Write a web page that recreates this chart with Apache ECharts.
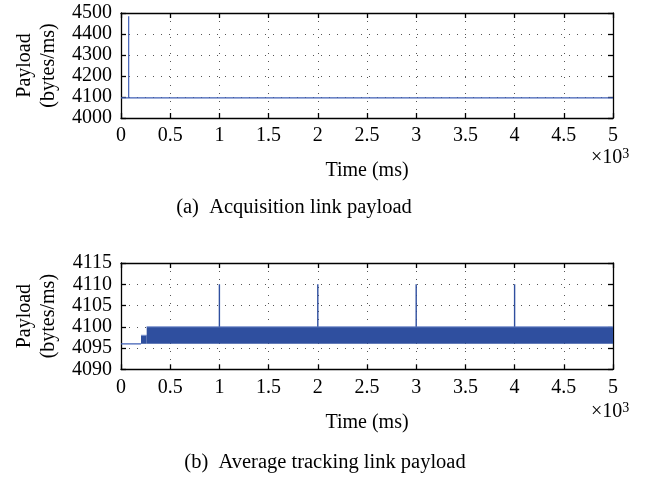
<!DOCTYPE html>
<html>
<head>
<meta charset="utf-8">
<script src="https://cdn.jsdelivr.net/npm/echarts@6/dist/echarts.min.js"></script>
<style>
html,body{margin:0;padding:0;background:#fff;}
#main{width:656px;height:480px;}
</style>
</head>
<body>
<div id="main"></div>
<script>
// ---- Data ----
// (a) Acquisition link payload
var acqTime    = [0,    78,   78,   78,   5000];
var acqPayload = [4096, 4096, 4485, 4096, 4096];

// (b) Average tracking link payload
var trkTime    = [0,    203];
var trkPayload = [4096, 4096];
// dense oscillation regions (drawn as filled bands between low and high)
var bandStart = [203,  261];
var bandEnd   = [261,  5000];
var bandLow   = [4096, 4096];
var bandHigh  = [4098, 4100];
// spikes
var spikeTime  = [1000, 2000, 3000, 4000];
var spikeBase  = [4100, 4100, 4100, 4100];
var spikePeak  = [4110, 4110, 4110, 4110];

// axis ticks
var xTicksMs = [0, 500, 1000, 1500, 2000, 2500, 3000, 3500, 4000, 4500, 5000];
var yTicksA = [4000, 4100, 4200, 4300, 4400, 4500];
var yTicksB = [4090, 4095, 4100, 4105, 4110, 4115];

var FONT = 'Liberation Serif';
var lineColor = '#3f5fb5';
var bandColor = '#2f4f9f';

function pairs(xs, ys){ return xs.map(function(x,i){return [x, ys[i]];}); }

var grids = [
  {left:121, right:43, top:13, height:105},
  {left:121, right:43, top:263, height:106.3}
];

var gridLine = {show:true, lineStyle:{color:'#555', type:[1,7], width:1}};

function xAx(gi, pos, labels){
  return {
    type:'value', gridIndex:gi, position:pos,
    min:xTicksMs[0], max:xTicksMs[xTicksMs.length-1], interval:xTicksMs[1]-xTicksMs[0],
    axisLine:{show:true, onZero:false, lineStyle:{color:'#000', width:1.3}},
    axisTick:{show:true, inside:true, length:5, lineStyle:{color:'#000', width:1.3}},
    axisLabel:{show:labels, margin:8, color:'#000', fontFamily:FONT, fontSize:20,
      formatter:function(v){return String(v/1000);}},
    splitLine: labels ? gridLine : {show:false},
    name: labels ? 'Time (ms)' : '',
    nameLocation:'middle', nameGap:43,
    nameTextStyle:{color:'#000', fontFamily:FONT, fontSize:20}
  };
}
function yAx(gi, pos, ticks, labels){
  return {
    type:'value', gridIndex:gi, position:pos,
    min:ticks[0], max:ticks[ticks.length-1], interval:ticks[1]-ticks[0],
    axisLine:{show:true, onZero:false, lineStyle:{color:'#000', width:1.3}},
    axisTick:{show:true, inside:true, length:5, lineStyle:{color:'#000', width:1.3}},
    axisLabel:{show:labels, margin:9, color:'#000', fontFamily:FONT, fontSize:20,
      formatter:function(v){return String(v);}},
    splitLine: labels ? gridLine : {show:false},
    name: labels ? 'Payload\n(bytes/ms)' : '',
    nameLocation:'middle', nameGap:58, nameRotate:90,
    nameTextStyle:{color:'#000', fontFamily:FONT, fontSize:20, lineHeight:24}
  };
}

var bandData = bandStart.map(function(s,i){ return [s, bandEnd[i], bandLow[i], bandHigh[i]]; });

var series = [
  {type:'line', xAxisIndex:0, yAxisIndex:0, data:pairs(acqTime, acqPayload),
   showSymbol:false, lineStyle:{color:lineColor, width:1.2}},
  {type:'line', xAxisIndex:2, yAxisIndex:2, data:pairs(trkTime, trkPayload),
   showSymbol:false, lineStyle:{color:lineColor, width:1.2}},
  {type:'custom', xAxisIndex:2, yAxisIndex:2, data:bandData,
   encode:{x:[0,1], y:[2,3]},
   renderItem:function(params, api){
     var p0 = api.coord([api.value(0), api.value(3)]);
     var p1 = api.coord([api.value(1), api.value(2)]);
     return {type:'group', children:[
       {type:'rect', shape:{x:p0[0], y:p0[1], width:p1[0]-p0[0], height:p1[1]-p0[1]},
        style:{fill:bandColor}},
       {type:'line', shape:{x1:p0[0], y1:p0[1], x2:p1[0], y2:p0[1]},
        style:{stroke:'#7f95cf', lineWidth:1}}
     ]};
   }}
];
spikeTime.forEach(function(t,i){
  series.push({type:'line', xAxisIndex:2, yAxisIndex:2,
    data:[[t, spikeBase[i]],[t, spikePeak[i]]],
    showSymbol:false, lineStyle:{color:bandColor, width:1.4}});
});

var chart = echarts.init(document.getElementById('main'), null, {renderer:'canvas'});
chart.setOption({
  animation:false,
  backgroundColor:'#fff',
  grid:grids,
  xAxis:[xAx(0,'bottom',true), xAx(0,'top',false), xAx(1,'bottom',true), xAx(1,'top',false)],
  yAxis:[yAx(0,'left',yTicksA,true), yAx(0,'right',yTicksA,false), yAx(1,'left',yTicksB,true), yAx(1,'right',yTicksB,false)],
  series:series,
  graphic:[
    {type:'text', left:591, top:147, style:{text:'×10{s|3}', fill:'#000', font:'20px '+FONT,
      rich:{s:{fontSize:14, fontFamily:FONT, verticalAlign:'top', padding:[0,0,8,0]}}}},
    {type:'text', left:591, top:401, style:{text:'×10{s|3}', fill:'#000', font:'20px '+FONT,
      rich:{s:{fontSize:14, fontFamily:FONT, verticalAlign:'top', padding:[0,0,8,0]}}}},
    {type:'text', x:294, y:208, style:{text:'(a)  Acquisition link payload', fill:'#000',
      font:'20.5px '+FONT, align:'center', verticalAlign:'middle'}},
    {type:'text', x:325, y:463, style:{text:'(b)  Average tracking link payload', fill:'#000',
      font:'20.5px '+FONT, align:'center', verticalAlign:'middle'}}
  ]
});
</script>
</body>
</html>
